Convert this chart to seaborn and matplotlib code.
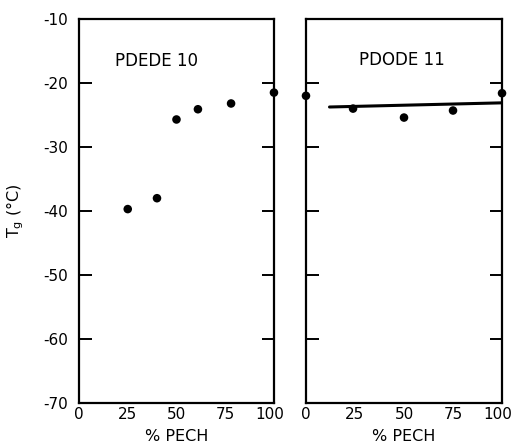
import matplotlib
matplotlib.use("Agg")
import matplotlib.pyplot as plt
import matplotlib.transforms as mtransforms
import seaborn as sns

# --- Data ---
pdede_pech = [25, 40, 50, 61, 78, 100]
pdede_tg = [-39.7, -38.0, -25.7, -24.1, -23.2, -21.5]

pdode_pech = [0, 24, 50, 75, 100]
pdode_tg = [-22.0, -24.0, -25.4, -24.3, -21.6]

fit_pech = [12, 100]
fit_tg = [-23.75, -23.1]

x_ticks = [0, 25, 50, 75, 100]
y_ticks = [-10, -20, -30, -40, -50, -60, -70]

sns.set_style("ticks")
plt.rcParams['font.family'] = ['DejaVu Sans']
plt.rcParams['axes.unicode_minus'] = False
plt.rcParams['text.color'] = 'black'
plt.rcParams['xtick.color'] = 'black'
plt.rcParams['ytick.color'] = 'black'
plt.rcParams['axes.labelcolor'] = 'black'

fig = plt.figure(figsize=(5.14, 4.48), dpi=100)
ax1 = fig.add_axes([0.1537, 0.1004, 0.3793, 0.8572])
ax2 = fig.add_axes([0.5953, 0.1004, 0.3814, 0.8572])

for ax in (ax1, ax2):
    ax.set_xlim(0, 100)
    ax.set_ylim(-70, -10)
    for sp in ax.spines.values():
        sp.set_linewidth(1.6)
        sp.set_color('black')
    ax.set_xticks(x_ticks)
    ax.set_yticks(y_ticks)
    ax.tick_params(axis='both', direction='in', length=9, width=1.4,
                   top=True, right=True, labelsize=11)
    ax.tick_params(axis='x', pad=3)
    ax.tick_params(axis='y', pad=8)
    ax.set_xlabel('% PECH', fontsize=11.5, labelpad=5)
    ax.set_ylabel('')
    # hide the tick marks that sit on the corners
    for t in ax.xaxis.get_major_ticks():
        if t.get_loc() in (0, 100):
            t.tick1line.set_visible(False)
            t.tick2line.set_visible(False)
    for t in ax.yaxis.get_major_ticks():
        if t.get_loc() in (-10, -70):
            t.tick1line.set_visible(False)
            t.tick2line.set_visible(False)
    # the "100" labels sit a little left of the corner in the original
    last = ax.get_xticklabels()[-1]
    last.set_transform(last.get_transform() +
                       mtransforms.ScaledTranslation(-2.8 / 72, 0, fig.dpi_scale_trans))

ax2.tick_params(axis='y', labelleft=False)

sns.scatterplot(x=pdede_pech, y=pdede_tg, ax=ax1, color='black', s=38,
                edgecolor='none', clip_on=False, zorder=5)
sns.scatterplot(x=pdode_pech, y=pdode_tg, ax=ax2, color='black', s=38,
                edgecolor='none', clip_on=False, zorder=5)
sns.lineplot(x=fit_pech, y=fit_tg, ax=ax2, color='black', linewidth=2.2)

ax1.text(40, -16.6, 'PDEDE 10', ha='center', va='center', fontsize=12)
ax2.text(49, -16.4, 'PDODE 11', ha='center', va='center', fontsize=12)

fig.text(0.03, 0.53, r'T$_\mathregular{g}$ (°C)', rotation=90,
         ha='center', va='center', fontsize=11.5)

fig.savefig('out.png', dpi=100)
